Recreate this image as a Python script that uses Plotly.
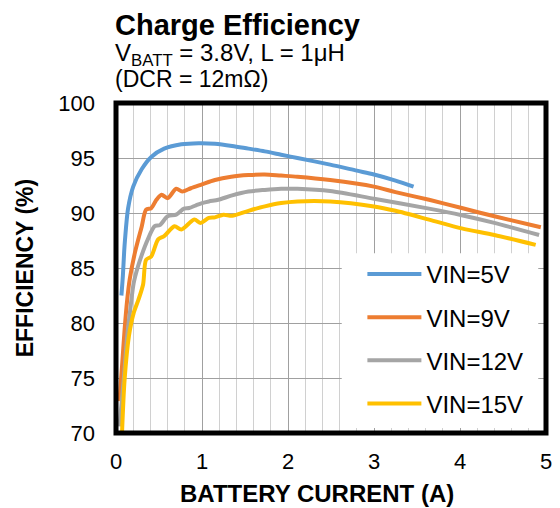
import plotly.graph_objects as go

# ---- data ----
vin5_x = [0.063, 0.08, 0.095, 0.105, 0.14, 0.20, 0.30, 0.41, 0.56, 0.76, 0.96, 1.15, 1.35, 1.54, 1.73, 1.92, 2.11, 2.49, 2.80, 3.0, 3.25, 3.46]
vin5_y = [82.5, 84.3, 86.5, 87.6, 90.4, 92.4, 94.0, 95.1, 95.85, 96.25, 96.35, 96.3, 96.1, 95.85, 95.6, 95.3, 95.0, 94.4, 93.85, 93.5, 92.95, 92.4]

vin9_x = [0.04, 0.07, 0.10, 0.13, 0.16, 0.22, 0.30, 0.35, 0.41, 0.47, 0.53, 0.60, 0.70, 0.77, 0.87, 1.0, 1.15, 1.34, 1.54, 1.73, 1.92, 2.11, 2.49, 3.0, 3.25, 3.64, 4.02, 4.40, 4.94]
vin9_y = [72.9, 76.05, 79.4, 82.1, 84.0, 86.4, 88.8, 90.3, 90.45, 91.2, 91.65, 91.35, 92.2, 91.95, 92.25, 92.6, 93.0, 93.3, 93.45, 93.5, 93.4, 93.3, 93.0, 92.4, 91.9, 91.2, 90.45, 89.7, 88.7]

vin12_x = [0.04, 0.09, 0.13, 0.17, 0.205, 0.25, 0.30, 0.37, 0.45, 0.51, 0.60, 0.70, 0.79, 0.85, 0.93, 1.0, 1.08, 1.19, 1.35, 1.54, 1.73, 1.92, 2.11, 2.49, 3.0, 3.64, 4.02, 4.40, 4.92]
vin12_y = [70.6, 74.85, 78.8, 81.5, 83.6, 85.0, 86.2, 87.6, 88.8, 88.9, 89.7, 89.85, 90.4, 90.45, 90.7, 90.9, 91.05, 91.2, 91.6, 91.95, 92.1, 92.2, 92.2, 92.0, 91.3, 90.4, 89.8, 89.1, 88.0]

vin15_x = [0.07, 0.10, 0.15, 0.205, 0.26, 0.315, 0.35, 0.41, 0.49, 0.56, 0.68, 0.76, 0.91, 0.985, 1.08, 1.15, 1.25, 1.35, 1.54, 1.73, 1.92, 2.11, 2.49, 3.0, 3.25, 3.64, 4.02, 4.40, 4.88]
vin15_y = [70.0, 74.85, 78.8, 80.9, 82.1, 83.5, 85.75, 86.05, 87.6, 87.9, 88.8, 88.5, 89.4, 89.1, 89.55, 89.6, 89.85, 89.75, 90.2, 90.6, 90.9, 91.05, 91.05, 90.6, 90.2, 89.4, 88.6, 88.0, 87.1]

series_names = ["VIN=5V", "VIN=9V", "VIN=12V", "VIN=15V"]
series_colors = ["#5B9BD5", "#ED7D31", "#A5A5A5", "#FFC000"]
series_x = [vin5_x, vin9_x, vin12_x, vin15_x]
series_y = [vin5_y, vin9_y, vin12_y, vin15_y]

x_ticks = [0, 1, 2, 3, 4, 5]
y_ticks = [70, 75, 80, 85, 90, 95, 100]

FONT = "Liberation Sans, Arial, sans-serif"

title_text = ("<span style='font-size:29px'><b>Charge Efficiency</b></span><br>"
              "<span style='font-size:24px'>V<sub>BATT</sub> = 3.8V, L = 1μH</span><br>"
              "<span style='font-size:23px'>(DCR = 12mΩ)</span>")

fig = go.Figure()
for name, color, xs, ys in zip(series_names, series_colors, series_x, series_y):
    fig.add_trace(go.Scatter(
        x=xs, y=ys, mode="lines", name=name, legendgroup=name,
        line=dict(color=color, width=4, shape="spline", smoothing=0.8),
    ))

fig.update_layout(
    width=552, height=500,
    margin=dict(l=108, r=8, t=95, b=75),
    paper_bgcolor="white", plot_bgcolor="white",
    font=dict(family=FONT, color="black"),
    showlegend=True,
    legend=dict(
        x=0.573, y=0.549, xanchor="left", yanchor="top",
        bgcolor="rgba(0,0,0,0)", borderwidth=0,
        font=dict(size=24, family=FONT, color="black"),
        tracegroupgap=9, itemwidth=54,
    ),
    xaxis=dict(
        range=[0, 5], tickvals=x_ticks, ticktext=[str(v) for v in x_ticks],
        showline=False, zeroline=False, ticks="",
        showgrid=True, gridcolor="#A0A0A0", gridwidth=1.3,
        minor=dict(dtick=0.2, showgrid=True, gridcolor="#D0D0D0", gridwidth=1.3),
        tickfont=dict(size=22, family=FONT), ticklabelstandoff=13,
    ),
    yaxis=dict(
        range=[70, 100], tickvals=y_ticks, ticktext=[str(v) for v in y_ticks],
        showline=False, zeroline=False, ticks="",
        showgrid=True, gridcolor="#A0A0A0", gridwidth=1.3,
        tickfont=dict(size=22, family=FONT), ticklabelstandoff=20,
    ),
    shapes=[
        dict(type="rect", xref="paper", yref="paper", x0=0.525, x1=0.982, y0=0.015, y1=0.545,
             line=dict(width=0), fillcolor="white", layer="above"),
        dict(type="rect", xref="paper", yref="paper", x0=0, x1=1, y0=0, y1=1,
             line=dict(color="black", width=5), layer="above"),
    ],
    annotations=[
        dict(text=title_text, xref="paper", yref="paper",
             x=-0.006, y=1.29, xanchor="left", yanchor="top", showarrow=False, align="left",
             font=dict(size=20, family=FONT, color="black")),
        dict(text="<b>BATTERY CURRENT (A)</b>", xref="paper", yref="paper",
             x=0.468, y=-0.136, xanchor="center", yanchor="top", showarrow=False,
             font=dict(size=24, family=FONT, color="black")),
        dict(text="<b>EFFICIENCY (%)</b>", xref="paper", yref="paper",
             x=-0.211, y=0.5, xanchor="center", yanchor="middle", showarrow=False,
             textangle=-90, font=dict(size=23, family=FONT, color="black")),
    ],
)

fig.write_html("out.html")
